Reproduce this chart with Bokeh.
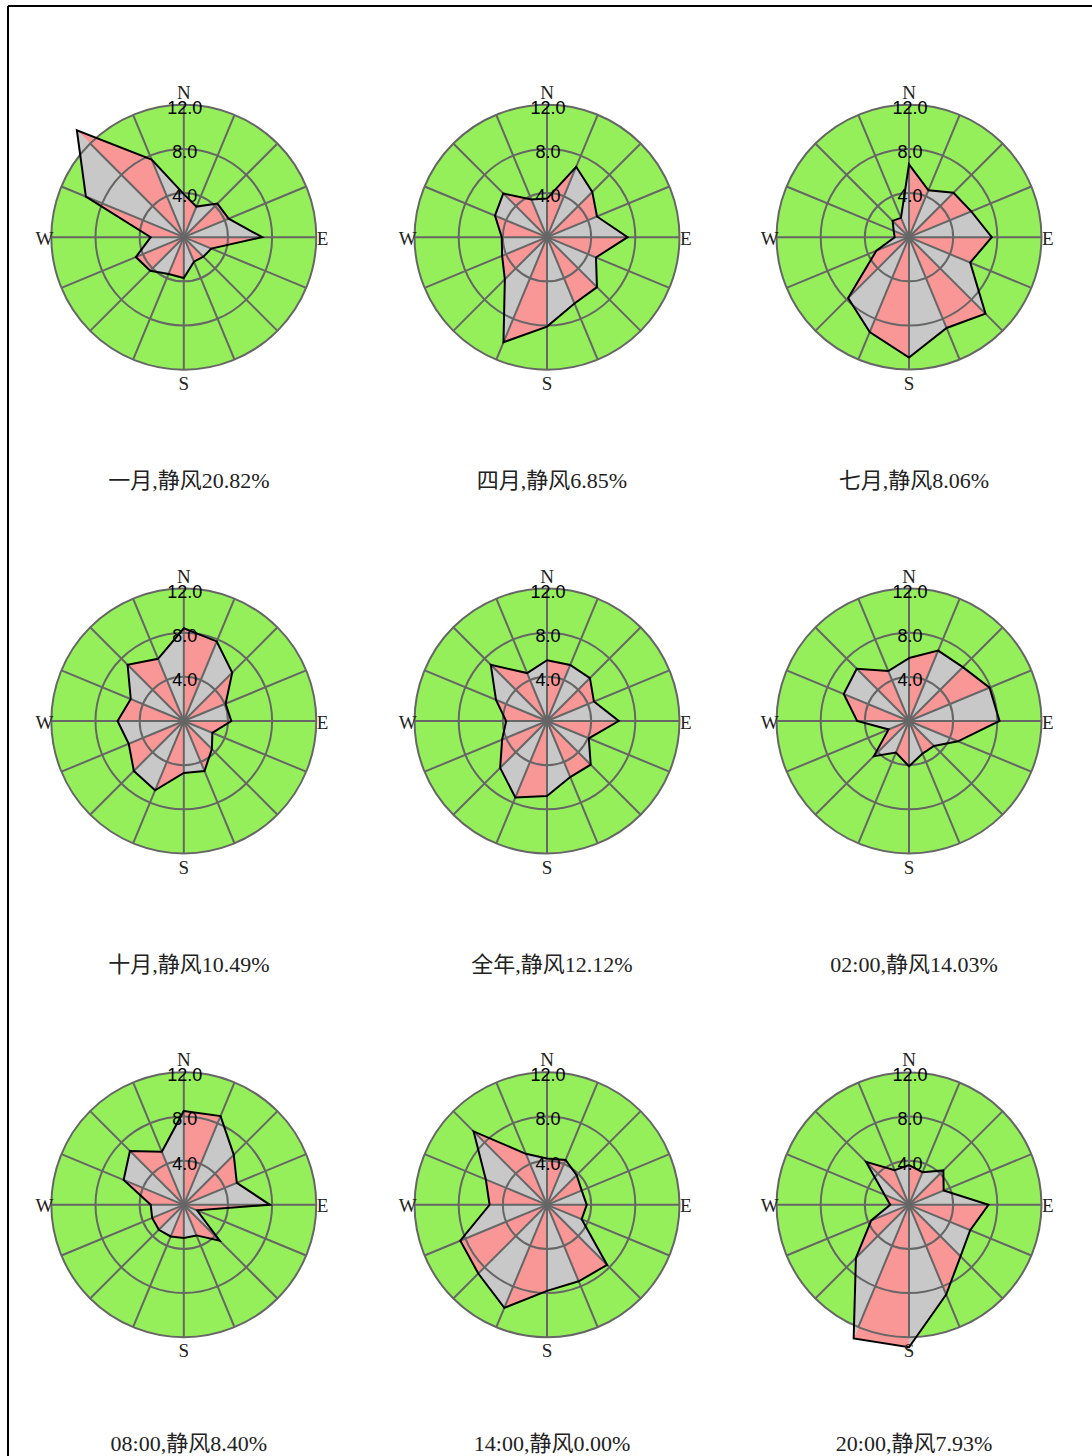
import numpy as np
from bokeh.plotting import figure
from bokeh.models import Range1d
from bokeh.core.properties import value
from bokeh.embed import file_html
from bokeh.resources import INLINE

# ---------------- data ----------------
directions = ["N", "NNE", "NE", "ENE", "E", "ESE", "SE", "SSE",
              "S", "SSW", "SW", "WSW", "W", "WNW", "NW", "NNW"]

titles = ["一月,静风20.82%", "四月,静风6.85%", "七月,静风8.06%",
          "十月,静风10.49%", "全年,静风12.12%", "02:00,静风14.03%",
          "08:00,静风8.40%", "14:00,静风0.00%", "20:00,静风7.93%"]

jan = [3.9, 3.0, 4.3, 4.4, 7.1, 2.7, 2.5, 2.4, 3.7, 3.6, 4.3, 4.7, 3.0, 9.6, 13.7, 7.6]
apr = [3.5, 6.9, 5.8, 4.9, 7.3, 4.8, 6.4, 6.5, 8.1, 10.3, 5.4, 4.4, 4.1, 5.1, 5.6, 3.7]
jul = [6.6, 4.6, 5.7, 6.1, 7.5, 6.0, 9.8, 8.9, 10.9, 9.3, 7.8, 3.2, 1.3, 1.5, 2.1, 1.9]
octo = [8.4, 7.8, 6.2, 4.1, 4.3, 2.8, 3.6, 4.9, 4.7, 6.8, 6.4, 5.4, 6.0, 5.2, 7.2, 6.1]
year = [5.5, 5.5, 5.5, 4.6, 6.5, 4.1, 5.6, 5.5, 6.8, 7.5, 6.0, 4.4, 3.7, 5.0, 7.2, 4.7]
h02 = [5.7, 6.9, 6.9, 7.9, 8.2, 4.8, 3.2, 3.2, 4.1, 3.1, 4.5, 2.0, 4.7, 6.4, 6.7, 4.9]
h08 = [8.5, 8.7, 6.4, 5.2, 7.8, 1.3, 4.6, 3.0, 3.0, 3.1, 3.2, 3.1, 3.0, 5.9, 6.9, 5.2]
h14 = [4.2, 4.4, 3.8, 3.4, 3.6, 3.4, 7.7, 7.5, 7.8, 10.1, 8.8, 8.5, 5.2, 6.0, 9.4, 5.0]
h20 = [3.6, 3.2, 4.4, 3.4, 7.2, 6.0, 6.6, 8.8, 12.9, 13.1, 6.8, 3.7, 1.7, 2.4, 5.5, 3.4]

series = [jan, apr, jul, octo, year, h02, h08, h14, h20]

rings = [4.0, 8.0, 12.0]
ring_labels = ["4.0", "8.0", "12.0"]
compass = ["N", "E", "S", "W"]

# ---------------- layout ----------------
W, H = 1092, 1456
col_x = [183.3, 546.5, 908.5]
row_y = [236.7, 720.5, 1204.3]
SC = 11.04          # pixels per frequency unit
RMAX = 12.0

GREEN = "#95EF5A"
PINK = "#F99696"
GRAY = "#C8C8C8"
GRID = "#666666"

p = figure(width=W, height=H, x_range=Range1d(0, W), y_range=Range1d(H, 0),
           output_backend="svg", toolbar_location=None, min_border=0,
           x_axis_type=None, y_axis_type=None)
p.grid.visible = False
p.outline_line_color = None
p.background_fill_color = "white"

# page frame (left/top edges visible in the window)
p.segment(x0=[7.5, 7.5], y0=[H + 5, 5.5], x1=[7.5, W + 5], y1=[5.5, 5.5],
          line_color="black", line_width=2)

serif = value("'Liberation Serif', 'Noto Sans CJK SC'")
narrow = value("'Liberation Sans Narrow', 'Liberation Sans'")

ang = np.deg2rad(np.arange(16) * 22.5)

for k, vals in enumerate(series):
    cx = col_x[k % 3]
    cy = row_y[k // 3]
    v = np.asarray(vals, dtype=float)
    px = cx + v * SC * np.sin(ang)
    py = cy - v * SC * np.cos(ang)

    # background disk
    p.circle(x=[cx], y=[cy], radius=RMAX * SC, fill_color=GREEN,
             line_color=None)

    # sector triangles
    xs, ys, cols = [], [], []
    for i in range(16):
        j = (i + 1) % 16
        xs.append([cx, px[i], px[j]])
        ys.append([cy, py[i], py[j]])
        cols.append(PINK if i % 2 == 0 else GRAY)
    p.patches(xs=xs, ys=ys, fill_color=cols, line_color=None)

    # rings
    p.circle(x=[cx] * 3, y=[cy] * 3, radius=[r * SC for r in rings],
             fill_color=None, line_color=GRID, line_width=2)
    # spokes
    p.segment(x0=[cx] * 16, y0=[cy] * 16,
              x1=list(cx + RMAX * SC * np.sin(ang)),
              y1=list(cy - RMAX * SC * np.cos(ang)),
              line_color=GRID, line_width=2)

    # outline
    p.patches(xs=[list(px)], ys=[list(py)], fill_color=None,
              line_color="black", line_width=2, line_join="miter")

    # ring labels
    p.text(x=[cx + 1] * 3, y=[cy - r * SC + 2.5 for r in rings],
           text=ring_labels, text_align="center", text_baseline="middle",
           text_font=narrow, text_font_size="18px", text_color="black")

    # compass labels
    p.text(x=[cx, cx + 138.7, cx, cx - 139.3],
           y=[cy - 145, cy + 1, cy + 146, cy + 1],
           text=compass, text_align="center", text_baseline="middle",
           text_font=serif, text_font_size="19px", text_color="#222222")

    # caption
    p.text(x=[cx + 5], y=[min(cy + 243, 1443)], text=[titles[k]],
           text_align="center", text_baseline="middle",
           text_font=serif, text_font_size="22px", text_color="#222222")

open("out.html", "w").write(file_html(p, INLINE))
